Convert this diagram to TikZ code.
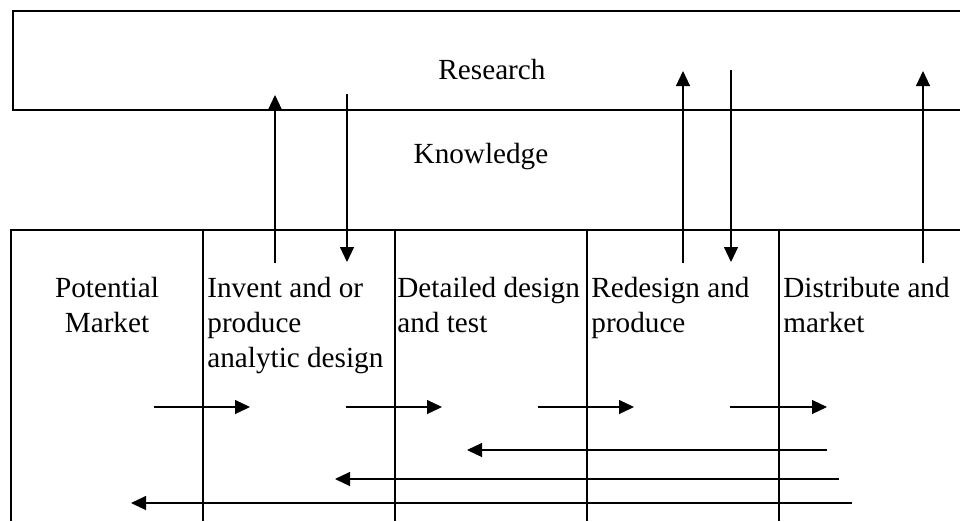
\documentclass[tikz,border=0pt]{standalone}
\usepackage{fontspec}
\setmainfont{Liberation Serif}
\usetikzlibrary{arrows.meta,positioning}
\tikzstyle{frame}=[draw,line width=0.6pt]
\tikzstyle{flow} = [draw,line width=0.55pt,-{Triangle[length=7.5pt,width=7pt]}]
\tikzstyle{txt} = [font=\fontsize{14.6}{17.5}\selectfont,inner sep=0pt]
\tikzstyle{stage} = [txt,anchor=north west,align=left]

\begin{document}
\begin{tikzpicture}[x=0.5pt,y=-0.5pt]
  \useasboundingbox (0,0) rectangle (960,521);

  % research box, open to the right
  \draw[frame] (960,11) -- (13,11) -- (13,110) -- (960,110);
  \node[txt] (research) at (492,70) {Research};
  \node[txt] (knowledge) at (481,157) {Knowledge};

  % stage columns
  \draw[frame] (960,230) -- (11,230) -- (11,521);
  \foreach \x in {203,395,587,779}
        \draw[frame] (\x,230) -- (\x,521);

  \node[txt,align=center,anchor=north] (market) at (107,277) {Potential\\Market};
  \foreach \x/\name/\text in {207/invent/{Invent and or\\produce\\analytic design}, 397/detail/{Detailed design\\and test}, 591/redesign/{Redesign and\\produce}, 783/distribute/{Distribute and\\market}}
        \node[stage] (\name) at (\x,277) {\text};

  % arrow ends
  \foreach \name/\x/\y in {up1s/275/263, up1e/275/95, dn1s/347/94, dn1e/347/262,
                           up2s/683/263, up2e/683/71, dn2s/731/70, dn2e/731/262,
                           up3s/923/263, up3e/923/71,
                           fw1s/154/407, fw1e/250/407, fw2s/346/407, fw2e/442/407,
                           fw3s/538/407, fw3e/634/407, fw4s/730/407, fw4e/827/407,
                           bk1s/827/450, bk1e/467/450, bk2s/839/479, bk2e/335/479,
                           bk3s/852/503, bk3e/131/503}
        \coordinate (\name) at (\x,\y);

  \foreach \source/ \dest in {up1s/up1e, dn1s/dn1e, up2s/up2e, dn2s/dn2e, up3s/up3e}
         \path[flow] (\source) -- (\dest);

  \foreach \source/ \dest in {fw1s/fw1e, fw2s/fw2e, fw3s/fw3e, fw4s/fw4e, bk1s/bk1e, bk2s/bk2e, bk3s/bk3e}
         \path[flow] (\source) -- (\dest);

\end{tikzpicture}
\end{document}
